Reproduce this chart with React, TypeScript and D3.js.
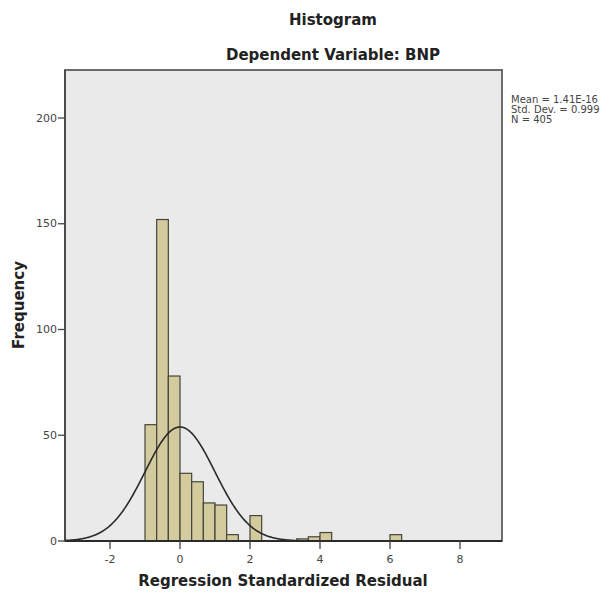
import * as d3 from 'd3';
import { useEffect, useRef } from 'react';

// bin starts (width 1/3) and counts
const binStarts = [-1, -2 / 3, -1 / 3, 0, 1 / 3, 2 / 3, 1, 4 / 3, 2, 10 / 3, 11 / 3, 4, 6];
const binCounts = [55, 152, 78, 32, 28, 18, 17, 3, 12, 1, 2, 4, 3];
const binWidth = 1 / 3;

const xTicks = [-2, 0, 2, 4, 6, 8];
const yTicks = [0, 50, 100, 150, 200];

const statLines = ['Mean = 1.41E-16', 'Std. Dev. = 0.999', 'N = 405'];
const mean = 1.41e-16;
const stdDev = 0.999;
const nTotal = 405;

export default function App() {
  const svgRef = useRef<SVGSVGElement | null>(null);

  useEffect(() => {
    if (!svgRef.current) return;
    const svg = d3.select(svgRef.current);
    svg.selectAll('*').remove();

    const left = 65, right = 502, top = 70, bottom = 541;
    const font = '"DejaVu Sans", Verdana, sans-serif';

    const x = d3.scaleLinear().domain([-3.286, 9.2]).range([left, right]);
    const y = d3.scaleLinear().domain([0, 200]).range([bottom, 118]);

    // plot background
    svg.append('rect')
      .attr('x', left).attr('y', top)
      .attr('width', right - left).attr('height', bottom - top)
      .attr('fill', '#eaeaea')
      .attr('stroke', '#5e5e5e')
      .attr('stroke-width', 1.8);

    // bars
    svg.append('g')
      .selectAll('rect')
      .data(binStarts.map((s, i) => ({ s, c: binCounts[i] })))
      .join('rect')
      .attr('x', d => x(d.s))
      .attr('y', d => y(d.c))
      .attr('width', d => x(d.s + binWidth) - x(d.s))
      .attr('height', d => y(0) - y(d.c))
      .attr('fill', '#d3cb9d')
      .attr('stroke', '#44443a')
      .attr('stroke-width', 1.2);

    // normal curve from the stats box
    const scale = nTotal * binWidth;
    const pts = d3.range(-3.286, 9.2, 0.02).map(v => [
      v,
      scale * Math.exp(-0.5 * ((v - mean) / stdDev) ** 2) / (stdDev * Math.sqrt(2 * Math.PI)),
    ]);
    svg.append('path')
      .attr('d', d3.line<number[]>().x(d => x(d[0])).y(d => y(d[1]))(pts))
      .attr('fill', 'none')
      .attr('stroke', '#2a2a2a')
      .attr('stroke-width', 1.6);

    // axes
    svg.append('line')
      .attr('x1', left).attr('x2', right).attr('y1', bottom).attr('y2', bottom)
      .attr('stroke', '#2b2b2b').attr('stroke-width', 2.2);
    svg.append('line')
      .attr('x1', left).attr('x2', left).attr('y1', top).attr('y2', bottom)
      .attr('stroke', '#4a4a4a').attr('stroke-width', 2);

    const yAxis = svg.append('g');
    yTicks.forEach(t => {
      yAxis.append('line')
        .attr('x1', left - 7).attr('x2', left).attr('y1', y(t)).attr('y2', y(t))
        .attr('stroke', '#444').attr('stroke-width', 1.3);
      yAxis.append('text')
        .attr('x', left - 8).attr('y', y(t))
        .attr('text-anchor', 'end').attr('dominant-baseline', 'central')
        .attr('font-family', font).attr('font-size', 11).attr('fill', '#444')
        .text(t);
    });

    const xAxis = svg.append('g');
    xTicks.forEach(t => {
      xAxis.append('line')
        .attr('x1', x(t)).attr('x2', x(t)).attr('y1', bottom).attr('y2', bottom + 8)
        .attr('stroke', '#444').attr('stroke-width', 1.3);
      xAxis.append('text')
        .attr('x', x(t)).attr('y', bottom + 18)
        .attr('text-anchor', 'middle').attr('dominant-baseline', 'central')
        .attr('font-family', font).attr('font-size', 11).attr('fill', '#444')
        .text(t);
    });

    // titles (centred on the whole chart, a bit right of the plot)
    svg.append('text')
      .attr('x', 333).attr('y', 25).attr('text-anchor', 'middle')
      .attr('font-family', font).attr('font-weight', 'bold').attr('font-size', 15)
      .attr('fill', '#222').text('Histogram');
    svg.append('text')
      .attr('x', 333).attr('y', 60).attr('text-anchor', 'middle')
      .attr('font-family', font).attr('font-weight', 'bold').attr('font-size', 15)
      .attr('fill', '#222').text('Dependent Variable: BNP');
    svg.append('text')
      .attr('x', 283).attr('y', 586).attr('text-anchor', 'middle')
      .attr('font-family', font).attr('font-weight', 'bold').attr('font-size', 15)
      .attr('fill', '#222').text('Regression Standardized Residual');
    svg.append('text')
      .attr('transform', 'translate(24,305) rotate(-90)').attr('text-anchor', 'middle')
      .attr('font-family', font).attr('font-weight', 'bold').attr('font-size', 15)
      .attr('fill', '#222').text('Frequency');

    // stats box
    svg.append('g')
      .selectAll('text')
      .data(statLines)
      .join('text')
      .attr('x', 511).attr('y', (_, i) => 103 + i * 10)
      .attr('font-family', font).attr('font-size', 10).attr('fill', '#444')
      .text(d => d);
  }, []);

  return (
    <svg
      ref={svgRef}
      width={615}
      height={598}
      style={{ position: 'absolute', left: 0, top: 0, background: '#fff' }}
    />
  );
}
